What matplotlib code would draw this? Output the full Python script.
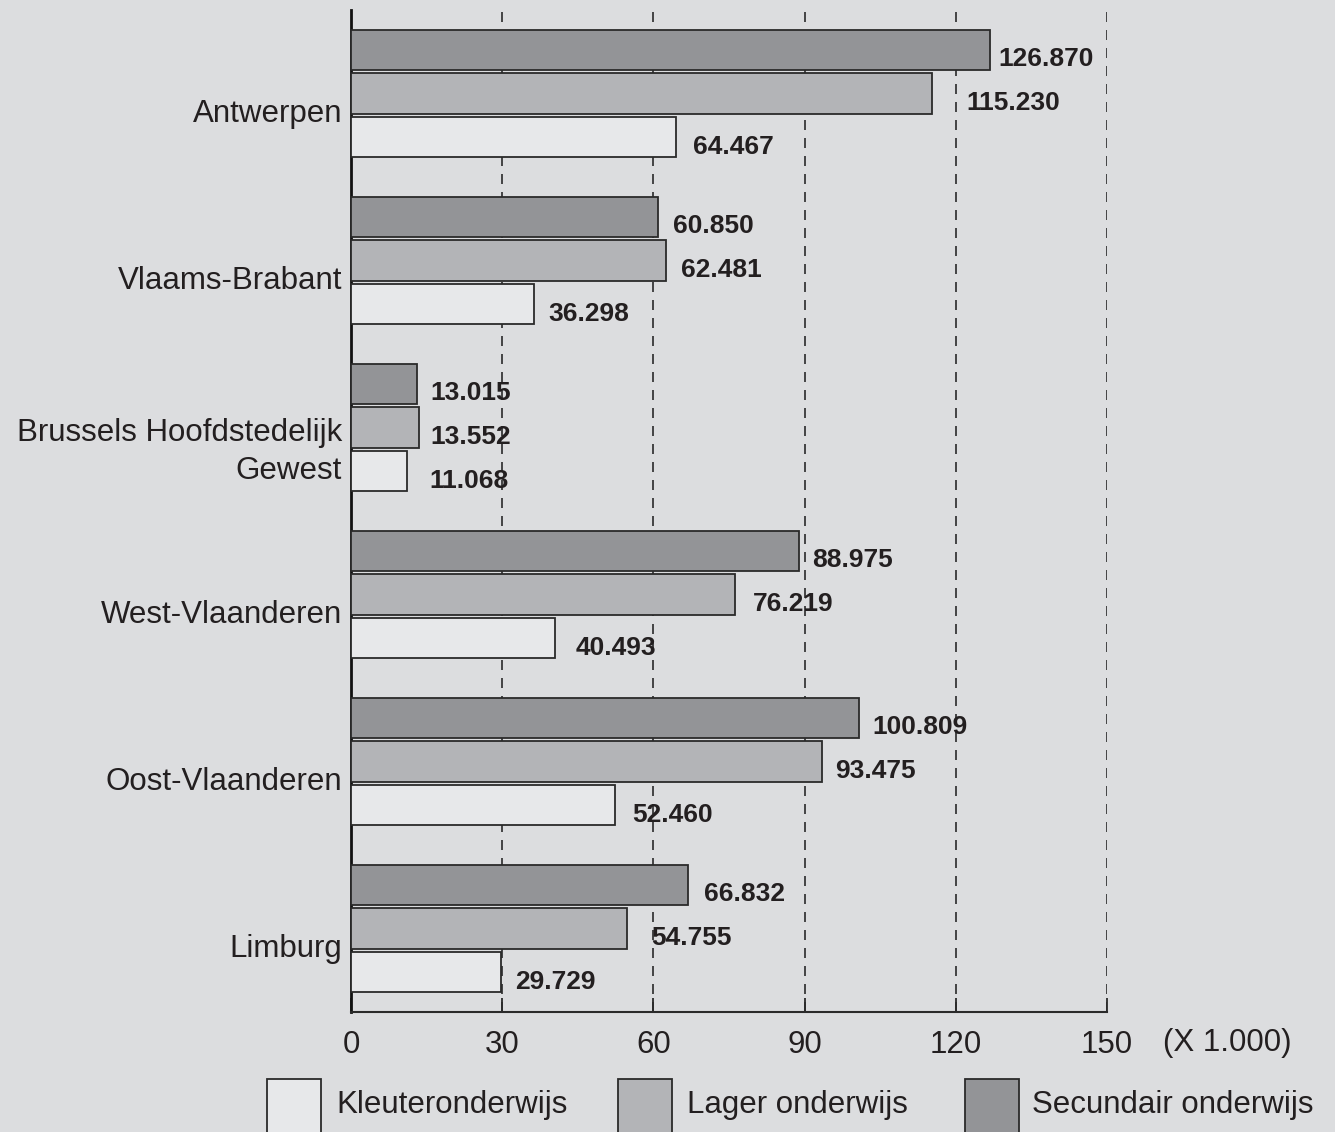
import matplotlib
matplotlib.use("Agg")
import matplotlib.pyplot as plt
from matplotlib.patches import Rectangle
import numpy as np

plt.rcParams['font.family'] = ['Liberation Sans', 'DejaVu Sans']

# ---- data ----
categories = ["Antwerpen", "Vlaams-Brabant", "Brussels Hoofdstedelijk\nGewest",
              "West-Vlaanderen", "Oost-Vlaanderen", "Limburg"]
secundair = [126.870, 60.850, 13.015, 88.975, 100.809, 66.832]
lager = [115.230, 62.481, 13.552, 76.219, 93.475, 54.755]
kleuter = [64.467, 36.298, 11.068, 40.493, 52.460, 29.729]
secundair_lbl = ["126.870", "60.850", "13.015", "88.975", "100.809", "66.832"]
lager_lbl = ["115.230", "62.481", "13.552", "76.219", "93.475", "54.755"]
kleuter_lbl = ["64.467", "36.298", "11.068", "40.493", "52.460", "29.729"]
series_names = ["Kleuteronderwijs", "Lager onderwijs", "Secundair onderwijs"]
xticks = [0, 30, 60, 90, 120, 150]
xtick_labels = ["0", "30", "60", "90", "120", "150"]
unit_label = "(X 1.000)"

# label x-nudges in pixels (secundair, lager, kleuter) per category
nudge = [(8, 35, 17), (15, 15, 14), (14, 11, 23),
         (13, 18, 21), (13, 13, 17), (16, 24, 14)]

# ---- style ----
BG = "#dcdddf"
C_DARK = "#939497"
C_MID = "#b3b4b7"
C_LIGHT = "#e7e8ea"
EDGE = "#2a2a2a"
TXT = "#231f20"

W, H = 1335, 1132
fig = plt.figure(figsize=(W / 100, H / 100), dpi=100, facecolor=BG)
ax = fig.add_axes([351 / W, 1 - 1012 / H, 756 / W, 1002 / H])
ax.set_facecolor(BG)

y = np.arange(len(categories))
off = 0.263
h = 0.24

ax.barh(y - off, secundair, height=h, color=C_DARK, edgecolor=EDGE, linewidth=1.3, zorder=3)
ax.barh(y, lager, height=h, color=C_MID, edgecolor=EDGE, linewidth=1.3, zorder=3)
ax.barh(y + off, kleuter, height=h, color=C_LIGHT, edgecolor=EDGE, linewidth=1.3, zorder=3)

for i in range(len(categories)):
    for j, (vals, lbls, yy) in enumerate([(secundair, secundair_lbl, y - off),
                                          (lager, lager_lbl, y),
                                          (kleuter, kleuter_lbl, y + off)]):
        ax.annotate(lbls[i], xy=(vals[i], yy[i]), xytext=(nudge[i][j], -16.5),
                    textcoords="offset pixels", ha="left", va="baseline",
                    fontsize=19, fontweight="bold", color=TXT, zorder=5)

ax.set_xlim(0, 150)
ax.set_ylim(5.5, -0.5)

ax.set_xticks(xticks)
ax.set_xticklabels(xtick_labels)
ax.tick_params(axis="x", direction="in", length=10, width=1.3, color=EDGE,
               labelsize=22.5, labelcolor=TXT, pad=13)

ax.set_yticks(y + 0.1)
ax.set_yticklabels(categories, ha="right", linespacing=1.35)
ax.tick_params(axis="y", length=0, labelsize=22.5, labelcolor=TXT, pad=6.5)

ax.grid(axis="x", linestyle=(0, (6, 4.8)), color=EDGE, linewidth=1.2, zorder=0)
ax.set_axisbelow(True)

for s in ["top", "right"]:
    ax.spines[s].set_visible(False)
ax.spines["left"].set_linewidth(2)
ax.spines["left"].set_color("#111111")
ax.spines["bottom"].set_linewidth(1.5)
ax.spines["bottom"].set_color(EDGE)

fig.text(1163 / W, 1 - 1043 / H, unit_label, ha="left", va="center",
         fontsize=22.5, color=TXT)

# legend
leg_boxes = [(267, C_LIGHT), (618, C_MID), (965, C_DARK)]
leg_text_x = [336, 687, 1032]
for (bx, col), tx, name in zip(leg_boxes, leg_text_x, series_names):
    fig.add_artist(Rectangle((bx / W, -0.01), 54 / W, (H - 1079) / H + 0.01,
                             transform=fig.transFigure, facecolor=col,
                             edgecolor=EDGE, linewidth=1.3))
    fig.text(tx / W, 1 - 1105 / H, name, ha="left", va="center",
             fontsize=22.5, color=TXT)

fig.savefig("out.png", dpi=100, facecolor=BG)
